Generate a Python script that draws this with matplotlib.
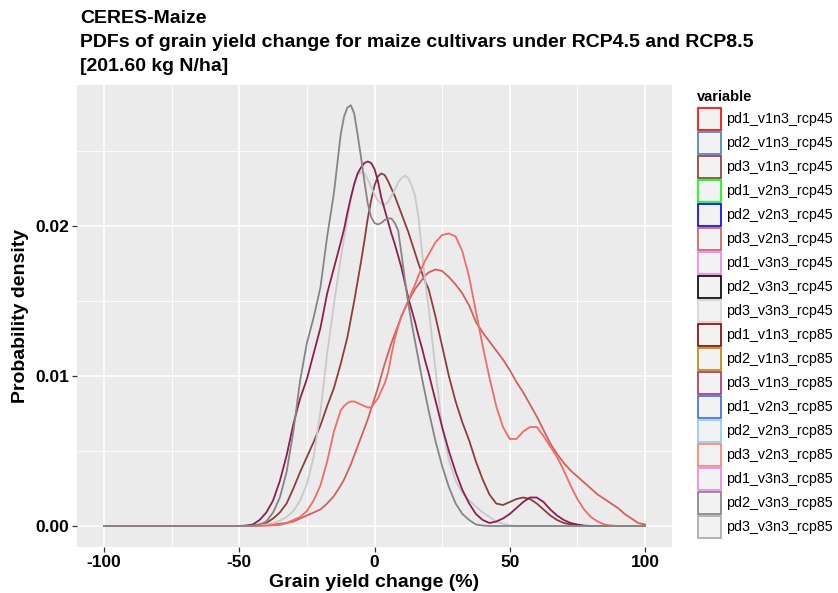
"""
CERES-Maize: PDFs of grain yield change for maize cultivars (RCP4.5 / RCP8.5).
Curves are density values read off the reference chart (finer steps around the peaks).
"""

import matplotlib
matplotlib.use("Agg")
import matplotlib.pyplot as plt
from matplotlib.patches import Rectangle
from matplotlib.ticker import MultipleLocator

plt.rcParams["font.family"] = ["Liberation Sans", "DejaVu Sans"]

# legend entries (factor order) and their colours
VARIABLES = [
    "pd1_v1n3_rcp45", "pd2_v1n3_rcp45", "pd3_v1n3_rcp45",
    "pd1_v2n3_rcp45", "pd2_v2n3_rcp45", "pd3_v2n3_rcp45",
    "pd1_v3n3_rcp45", "pd2_v3n3_rcp45", "pd3_v3n3_rcp45",
    "pd1_v1n3_rcp85", "pd2_v1n3_rcp85", "pd3_v1n3_rcp85",
    "pd1_v2n3_rcp85", "pd2_v2n3_rcp85", "pd3_v2n3_rcp85",
    "pd1_v3n3_rcp85", "pd2_v3n3_rcp85", "pd3_v3n3_rcp85",
]
KEY_COLORS = [
    "#FF0000", "#4682B4", "#8B3A3A",
    "#00FF00", "#0000FF", "#CD5C5C",
    "#EE82EE", "#000000", "#D3D3D3",
    "#8B0000", "#B8860B", "#B03060",
    "#4169E1", "#87CEFA", "#FA8072",
    "#EE82EE", "#808080", "#A9A9A9",
]

# grain yield change (%) sample positions
YIELD_X = [-100,
           -50, -47.5, -45, -42.5, -40, -37.5, -35, -32.5,
           -30, -27.5, -25, -22.5, -20, -17.5, -15, -12.5,
           -11.25, -10, -8.75, -7.5, -6.25, -5, -3.75, -2.5, -1.25,
           0, 1.25, 2.5, 3.75, 5, 6.25, 7.5, 8.75, 10, 11.25,
           12.5, 13.75, 15, 16.25, 17.5, 18.75, 20,
           22.5, 25, 27.5, 30, 32.5, 35, 37.5, 40,
           42.5, 45, 47.5, 50, 52.5, 55, 57.5, 60,
           62.5, 65, 67.5, 70, 72.5, 75, 77.5, 80,
           82.5, 85, 87.5, 90, 92.5, 95, 97.5, 100]

# densities in units of 1e-3, same positions as YIELD_X
pd3_v1n3_rcp45 = [0,
                  0, 0, 0.03, 0.1, 0.2, 0.5, 0.9, 1.5,
                  2.5, 3.6, 4.6, 5.6, 6.7, 8.0, 9.2, 10.8,
                  11.7, 12.6, 13.8, 15.0, 16.3, 17.6, 19.0, 20.5, 21.7,
                  22.7, 23.3, 23.5, 23.4, 23.0, 22.5, 22.0, 21.4, 20.8, 20.2,
                  19.6, 18.9, 18.2, 17.5, 16.9, 16.3, 15.8,
                  14.0, 12.0, 10.0, 8.3, 6.9, 5.7, 4.3, 3.1,
                  2.1, 1.5, 1.4, 1.6, 1.8, 1.9, 1.8, 1.5,
                  1.1, 0.7, 0.4, 0.2, 0.1, 0.04, 0, 0,
                  0, 0, 0, 0, 0, 0, 0, 0]
pd3_v2n3_rcp45 = [0,
                  0, 0, 0.01, 0.03, 0.06, 0.1, 0.15, 0.2,
                  0.3, 0.5, 0.7, 0.9, 1.1, 1.5, 2.0, 2.7,
                  3.1, 3.6, 4.1, 4.7, 5.3, 5.9, 6.5, 7.1, 7.8,
                  8.5, 9.2, 10.0, 10.8, 11.5, 12.2, 12.8, 13.4, 14.0, 14.5,
                  15.0, 15.4, 15.8, 16.1, 16.4, 16.7, 16.9,
                  17.1, 17.0, 16.6, 16.1, 15.5, 14.7, 13.6, 12.9,
                  12.3, 11.7, 11.1, 10.4, 9.6, 8.9, 8.1, 7.3,
                  6.4, 5.5, 4.8, 4.2, 3.7, 3.3, 2.9, 2.5,
                  2.1, 1.8, 1.5, 1.2, 0.8, 0.5, 0.2, 0.1]
pd3_v3n3_rcp45 = [0,
                  0, 0, 0, 0.03, 0.1, 0.2, 0.35, 0.6,
                  1.0, 1.7, 2.8, 4.6, 7.6, 11.5, 14.8, 17.8,
                  19.2, 20.5, 21.8, 22.8, 23.4, 23.6, 23.5, 23.1, 22.6,
                  22.1, 21.7, 21.5, 21.4, 21.6, 22.0, 22.4, 22.9, 23.2, 23.35,
                  23.2, 22.7, 22.0, 20.6, 18.4, 16.3, 14.6,
                  10.5, 6.6, 4.4, 3.0, 2.2, 1.7, 1.3, 0.9,
                  0.6, 0.3, 0.15, 0.05, 0, 0, 0, 0,
                  0, 0, 0, 0, 0, 0, 0, 0,
                  0, 0, 0, 0, 0, 0, 0, 0]
pd3_v1n3_rcp85 = [0,
                  0, 0.03, 0.1, 0.4, 0.9, 1.7, 3.0, 4.7,
                  6.8, 8.5, 9.8, 11.5, 13.2, 15.5, 17.2, 18.9,
                  19.8, 20.9, 21.9, 22.8, 23.5, 23.9, 24.2, 24.3, 24.2,
                  23.8, 23.0, 21.9, 21.1, 20.3, 19.5, 18.8, 18.0, 17.2, 16.2,
                  15.2, 14.4, 13.6, 12.7, 11.9, 11.0, 10.2,
                  8.4, 6.6, 5.0, 3.6, 2.4, 1.5, 0.8, 0.4,
                  0.2, 0.3, 0.5, 0.8, 1.2, 1.6, 1.9, 1.9,
                  1.6, 1.1, 0.7, 0.4, 0.2, 0.1, 0.03, 0,
                  0, 0, 0, 0, 0, 0, 0, 0]
pd3_v2n3_rcp85 = [0,
                  0, 0, 0, 0.01, 0.02, 0.04, 0.07, 0.2,
                  0.4, 0.6, 1.0, 1.7, 2.7, 4.3, 6.3, 7.7,
                  8.0, 8.2, 8.3, 8.3, 8.2, 8.1, 8.0, 7.9, 7.9,
                  8.2, 8.5, 9.0, 9.5, 10.2, 11.4, 12.5, 13.3, 14.0, 14.5,
                  15.0, 15.6, 16.1, 16.7, 17.2, 17.7, 18.1,
                  18.9, 19.4, 19.5, 19.3, 18.3, 16.6, 14.3, 12.0,
                  9.9, 8.0, 6.6, 5.8, 5.8, 6.3, 6.6, 6.6,
                  6.0, 5.3, 4.6, 3.7, 2.7, 1.8, 1.1, 0.6,
                  0.3, 0.1, 0.03, 0, 0, 0, 0, 0]
pd3_v3n3_rcp85 = [0,
                  0, 0, 0.03, 0.1, 0.3, 0.9, 1.9, 3.6,
                  6.3, 9.7, 12.2, 13.9, 15.9, 19.3, 22.2, 26.1,
                  27.3, 27.9, 28.05, 27.5, 26.1, 24.6, 23.0, 21.5, 20.6,
                  20.2, 20.1, 20.2, 20.4, 20.5, 20.5, 20.2, 19.7, 18.1, 16.4,
                  14.8, 13.5, 12.3, 11.1, 9.9, 8.8, 7.7,
                  5.7, 4.0, 2.6, 1.5, 0.8, 0.4, 0.1, 0.03,
                  0, 0, 0, 0, 0, 0, 0, 0,
                  0, 0, 0, 0, 0, 0, 0, 0,
                  0, 0, 0, 0, 0, 0, 0, 0]

# drawn in factor order, last one on top
CURVES = [
    ("pd3_v1n3_rcp45", pd3_v1n3_rcp45, "#8E3C3C"),
    ("pd3_v2n3_rcp45", pd3_v2n3_rcp45, "#D45F5F"),
    ("pd3_v3n3_rcp45", pd3_v3n3_rcp45, "#C9C9C9"),
    ("pd3_v1n3_rcp85", pd3_v1n3_rcp85, "#8C1E52"),
    ("pd3_v2n3_rcp85", pd3_v2n3_rcp85, "#F26A6A"),
    ("pd3_v3n3_rcp85", pd3_v3n3_rcp85, "#858585"),
]

W, H = 838, 593
fig = plt.figure(figsize=(W / 100, H / 100), dpi=100)
ax = fig.add_axes([77 / W, 1 - 547 / H, (672 - 77) / W, (547 - 85) / H])
ax.set_facecolor("#EBEBEB")
for s in ax.spines.values():
    s.set_visible(False)

for name, vals, col in CURVES:
    assert len(vals) == len(YIELD_X), name
    ax.plot(YIELD_X, [v / 1000 for v in vals], color=col, lw=1.3,
            solid_joinstyle="round", zorder=3)

ax.set_xlim(-110, 110)
ax.set_ylim(-0.0014, 0.0294)
ax.xaxis.set_minor_locator(MultipleLocator(25))
ax.yaxis.set_minor_locator(MultipleLocator(0.005))
ax.set_xticks([-100, -50, 0, 50, 100])
ax.set_xticklabels(["-100", "-50", "0", "50", "100"])
ax.set_yticks([0, 0.01, 0.02])
ax.set_yticklabels(["0.00", "0.01", "0.02"])
ax.grid(which="major", color="white", lw=1.2, zorder=1)
ax.grid(which="minor", color="white", lw=0.6, zorder=1)
ax.tick_params(which="major", length=3.5, width=0.9, color="#333333",
               labelsize=12.5, pad=2)
ax.tick_params(which="minor", length=0)
for lab in ax.get_xticklabels() + ax.get_yticklabels():
    lab.set_fontweight("bold")
    lab.set_color("black")

ax.set_xlabel("Grain yield change (%)", fontsize=14, fontweight="bold", labelpad=3)
ax.set_ylabel("Probability density", fontsize=14, fontweight="bold", labelpad=5)

fig.text(80 / W, 1 - 10 / H,
         "CERES-Maize\n"
         "PDFs of grain yield change for maize cultivars under RCP4.5 and RCP8.5\n"
         "[201.60 kg N/ha]",
         ha="left", va="top", fontsize=14, fontweight="bold", linespacing=1.55)

# legend, drawn as ggplot-style keys (pixel layout)
fig.text(697 / W, 1 - 97 / H, "variable", ha="left", va="center",
         fontsize=10.5, fontweight="bold")
key_x, key_top, key_w, key_h, pitch = 698, 108, 23, 22, 24
for i, (lab, col) in enumerate(zip(VARIABLES, KEY_COLORS)):
    top = key_top + i * pitch
    fig.add_artist(Rectangle((key_x / W, 1 - (top + key_h) / H), key_w / W, key_h / H,
                             transform=fig.transFigure, facecolor="#F2F2F2",
                             edgecolor=col, linewidth=1.2))
    fig.text(726 / W, 1 - (top + key_h / 2) / H, lab, ha="left", va="center",
             fontsize=10.3)

fig.savefig("out.png", dpi=100)
